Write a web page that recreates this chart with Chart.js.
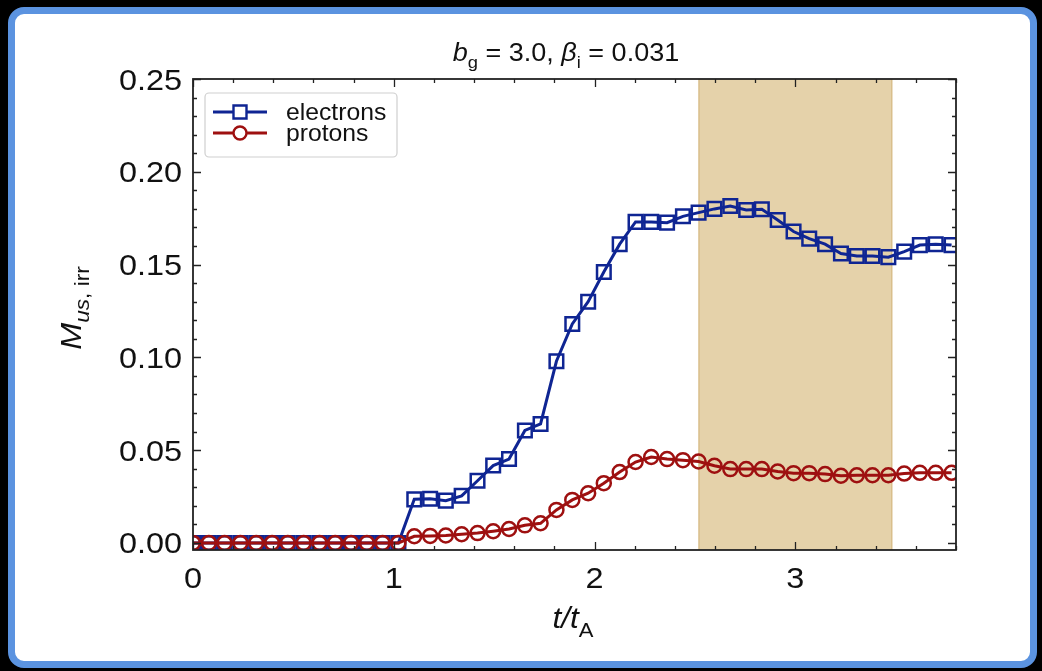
<!DOCTYPE html>
<html>
<head>
<meta charset="utf-8">
<script src="https://cdn.jsdelivr.net/npm/chart.js@4.4.1/dist/chart.umd.min.js"></script>
<style>
  html, body { margin: 0; padding: 0; background: #000; }
  body { width: 1042px; height: 671px; position: relative; overflow: hidden; }
  .frame {
    position: absolute; left: 8px; top: 7px; width: 1015px; height: 647px;
    border: 7px solid #5b93e0; border-radius: 16px; background: #fff;
  }
  #chart { position: absolute; left: 0; top: 0; }
</style>
</head>
<body>
<div class="frame"></div>
<canvas id="chart" width="1042" height="671"></canvas>
<script>
// t / t_A sample times
const times = [
  0.000, 0.079, 0.157, 0.236, 0.315, 0.394, 0.472, 0.551, 0.630, 0.708,
  0.787, 0.866, 0.944, 1.023, 1.102, 1.181, 1.259, 1.338, 1.417, 1.495,
  1.574, 1.653, 1.731, 1.810, 1.889, 1.968, 2.046, 2.125, 2.204, 2.282,
  2.361, 2.440, 2.518, 2.597, 2.676, 2.755, 2.833, 2.912, 2.991, 3.069,
  3.148, 3.227, 3.306, 3.384, 3.463, 3.542, 3.620, 3.699, 3.778
];
const electrons = [
  0, 0, 0, 0, 0, 0, 0, 0, 0, 0,
  0, 0, 0, 0, 0.0235, 0.0238, 0.0228, 0.0254, 0.0335, 0.0417,
  0.0452, 0.0606, 0.0641, 0.0979, 0.118, 0.130, 0.146, 0.161, 0.173, 0.173,
  0.1726, 0.176, 0.178, 0.180, 0.1816, 0.1794, 0.1798, 0.174, 0.1678, 0.164,
  0.161, 0.156, 0.1546, 0.1546, 0.154, 0.157, 0.1605, 0.161, 0.1605
];
const protons = [
  0, 0, 0, 0, 0, 0, 0, 0, 0, 0,
  0, 0, 0, 0, 0.0036, 0.0038, 0.0040, 0.0047, 0.0053, 0.0063,
  0.0075, 0.0095, 0.0106, 0.0178, 0.0232, 0.0268, 0.0322, 0.0382, 0.0436, 0.0463,
  0.0452, 0.0446, 0.0439, 0.0416, 0.0398, 0.0398, 0.0398, 0.0385, 0.0376, 0.0376,
  0.0371, 0.0362, 0.0365, 0.0365, 0.0365, 0.0374, 0.0378, 0.0378, 0.0378
];
const xTicks = [0, 1, 2, 3];
const xTickLabels = ["0", "1", "2", "3"];
const yTicks = [0, 0.05, 0.10, 0.15, 0.20, 0.25];
const yTickLabels = ["0.00", "0.05", "0.10", "0.15", "0.20", "0.25"];
const shadeStart = 2.52;
const shadeEnd = 3.48;

const BLUE = "#0f2593";
const RED = "#9e1010";
const FONT = "'Liberation Sans', Arial, sans-serif";

function fontOf(p) {
  return (p.it ? "italic " : "") + p.s + "px " + FONT;
}

function drawRich(ctx, parts, x, y, align, sx, rot) {
  ctx.save();
  ctx.translate(x, y);
  if (rot) ctx.rotate(rot);
  ctx.scale(sx, 1);
  let w = 0;
  parts.forEach((p) => { ctx.font = fontOf(p); w += ctx.measureText(p.t).width; });
  let cx = align === "center" ? -w / 2 : align === "right" ? -w : 0;
  ctx.fillStyle = "#111";
  ctx.textBaseline = "alphabetic";
  ctx.textAlign = "left";
  parts.forEach((p) => {
    ctx.font = fontOf(p);
    ctx.fillText(p.t, cx, p.dy || 0);
    cx += ctx.measureText(p.t).width;
  });
  ctx.restore();
}

const decor = {
  id: "decor",
  beforeDatasetsDraw(chart) {
    const { ctx, chartArea: a, scales: { x } } = chart;
    const x0 = x.getPixelForValue(shadeStart);
    const x1 = x.getPixelForValue(shadeEnd);
    ctx.save();
    ctx.fillStyle = "#e5d2aa";
    ctx.fillRect(x0, a.top, x1 - x0, a.bottom - a.top);
    ctx.strokeStyle = "#d9bf8c";
    ctx.lineWidth = 1.5;
    ctx.beginPath();
    ctx.moveTo(x0, a.top); ctx.lineTo(x0, a.bottom);
    ctx.moveTo(x1, a.top); ctx.lineTo(x1, a.bottom);
    ctx.stroke();
    ctx.restore();
  },
  afterDraw(chart) {
    const { ctx, chartArea: a, scales: { x, y } } = chart;
    ctx.save();
    ctx.strokeStyle = "#222";
    ctx.lineWidth = 1.3;
    ctx.beginPath();
    // minor + major ticks, pointing inward on all sides
    for (let v = 0; v <= 3.8001; v += 0.2) {
      const px = Math.round(x.getPixelForValue(v)) + 0.5;
      const major = Math.abs(v - Math.round(v)) < 1e-6;
      const len = major ? 8 : 4;
      ctx.moveTo(px, a.bottom); ctx.lineTo(px, a.bottom - len);
      ctx.moveTo(px, a.top); ctx.lineTo(px, a.top + len);
    }
    for (let v = 0; v <= 0.2501; v += 0.01) {
      const py = Math.round(y.getPixelForValue(v)) + 0.5;
      const major = Math.abs(v / 0.05 - Math.round(v / 0.05)) < 1e-6;
      const len = major ? 8 : 4;
      ctx.moveTo(a.left, py); ctx.lineTo(a.left + len, py);
      ctx.moveTo(a.right, py); ctx.lineTo(a.right - len, py);
    }
    ctx.stroke();
    ctx.lineWidth = 1.8;
    ctx.strokeRect(a.left, a.top, a.right - a.left, a.bottom - a.top);
    ctx.restore();

    // tick labels
    xTicks.forEach((v, i) => {
      drawRich(ctx, [{ t: xTickLabels[i], s: 30 }], x.getPixelForValue(v), 588, "center", 1.08);
    });
    yTicks.forEach((v, i) => {
      drawRich(ctx, [{ t: yTickLabels[i], s: 30 }], 182, y.getPixelForValue(v) + 10.5, "right", 1.08);
    });

    // title and axis labels
    drawRich(ctx, [
      { t: "b", s: 25, it: true },
      { t: "g", s: 17, dy: 7 },
      { t: " = 3.0, ", s: 25 },
      { t: "β", s: 25, it: true },
      { t: "i", s: 17, dy: 7 },
      { t: " = 0.031", s: 25 }
    ], 566, 61, "center", 1.08);
    drawRich(ctx, [
      { t: "t/t", s: 30, it: true },
      { t: "A", s: 21, dy: 9 }
    ], 573, 628, "center", 1.05);
    drawRich(ctx, [
      { t: "M", s: 30, it: true },
      { t: "us", s: 21, it: true, dy: 8 },
      { t: ", irr", s: 21, dy: 8 }
    ], 81, 308, "center", 1.08, -Math.PI / 2);

    // legend
    const lx = 205, ly = 93, lw = 192, lh = 64;
    ctx.save();
    ctx.fillStyle = "rgba(255,255,255,0.9)";
    ctx.strokeStyle = "#cfcfcf";
    ctx.lineWidth = 1.2;
    ctx.beginPath();
    ctx.roundRect(lx, ly, lw, lh, 4);
    ctx.fill();
    ctx.stroke();
    const entries = [
      { label: "electrons", color: BLUE, style: "rect", yy: 112 },
      { label: "protons", color: RED, style: "circle", yy: 133 }
    ];
    entries.forEach((e) => {
      ctx.strokeStyle = e.color;
      ctx.lineWidth = 3;
      ctx.beginPath();
      ctx.moveTo(213, e.yy); ctx.lineTo(267, e.yy);
      ctx.stroke();
      ctx.lineWidth = 2.4;
      ctx.fillStyle = "#fff";
      ctx.beginPath();
      if (e.style === "rect") ctx.rect(240 - 6.5, e.yy - 6.5, 13, 13);
      else ctx.arc(240, e.yy, 6.5, 0, Math.PI * 2);
      ctx.fill();
      ctx.stroke();
      drawRich(ctx, [{ t: e.label, s: 24 }], 286, e.yy + 8, "left", 1.03);
    });
    ctx.restore();
  }
};

const pts = (ys) => times.map((t, i) => ({ x: t, y: ys[i] }));

new Chart(document.getElementById("chart"), {
  type: "line",
  data: {
    datasets: [
      {
        label: "protons",
        data: pts(protons),
        borderColor: RED,
        borderWidth: 3,
        pointStyle: "circle",
        pointRadius: 7,
        pointBorderWidth: 2.5,
        pointBackgroundColor: "rgba(0,0,0,0)",
        pointBorderColor: RED,
        tension: 0,
        order: 1,
        clip: 0
      },
      {
        label: "electrons",
        data: pts(electrons),
        borderColor: BLUE,
        borderWidth: 3,
        pointStyle: "rect",
        pointRadius: 9.6,
        pointBorderWidth: 2.5,
        pointBackgroundColor: "rgba(0,0,0,0)",
        pointBorderColor: BLUE,
        tension: 0,
        order: 2,
        clip: 0
      }
    ]
  },
  options: {
    responsive: false,
    animation: false,
    devicePixelRatio: 1,
    layout: { padding: { left: 193, right: 86, top: 79, bottom: 121 } },
    scales: {
      x: { type: "linear", min: 0, max: 3.8, display: false },
      y: { type: "linear", min: -0.0038, max: 0.25, display: false }
    },
    plugins: {
      legend: { display: false },
      tooltip: { enabled: false }
    }
  },
  plugins: [decor]
});
</script>
</body>
</html>
